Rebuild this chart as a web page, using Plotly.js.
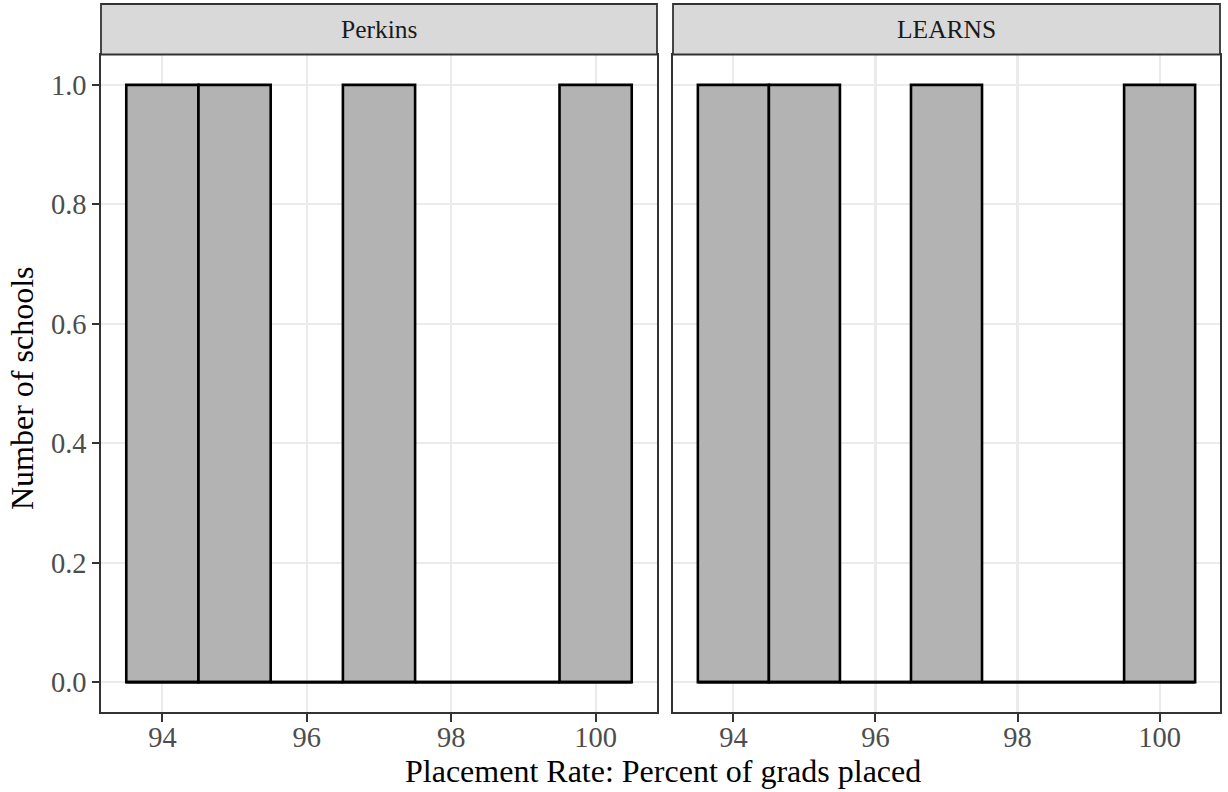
<!DOCTYPE html>
<html>
<head>
<meta charset="utf-8">
<script src="https://cdn.plot.ly/plotly-3.0.1.min.js"></script>
<style>html,body{margin:0;padding:0;background:#fff;}#chart{width:1228px;height:792px;}</style>
</head>
<body>
<div id="chart"></div>
<script>
// ---- data ----
var panels = ["Perkins", "LEARNS"];
var binCenters = [94, 95, 96, 97, 98, 99, 100];
var perkinsCounts = [1, 1, 0, 1, 0, 0, 1];
var learnsCounts = [1, 1, 0, 1, 0, 0, 1];
var binWidth = 1;
var xTickVals = [94, 96, 98, 100];
var yTickVals = [0, 0.2, 0.4, 0.6, 0.8, 1.0];
var xTitle = "Placement Rate: Percent of grads placed";
var yTitle = "Number of schools";

// ---- geometry helpers (pixel -> paper) ----
var W = 1228, H = 792;
function px(x) { return x / W; }
function py(y) { return 1 - y / H; }

var FONT = '"Liberation Serif", "Times New Roman", Times, serif';
var countsList = [perkinsCounts, learnsCounts];

var traces = [];
countsList.forEach(function (counts, i) {
  var xa = i === 0 ? 'x' : 'x2';
  var ya = i === 0 ? 'y' : 'y2';
  traces.push({
    type: 'bar', x: binCenters, y: counts, width: binWidth,
    xaxis: xa, yaxis: ya,
    marker: { color: '#B3B3B3', line: { color: '#000000', width: 2.6 } },
    hoverinfo: 'x+y', showlegend: false
  });
  // outline of the histogram's baseline (zero-count bins)
  var lo = binCenters[0] - binWidth / 2;
  var hi = binCenters[binCenters.length - 1] + binWidth / 2;
  traces.push({
    type: 'scatter', mode: 'lines', x: [lo, hi], y: [0, 0],
    xaxis: xa, yaxis: ya,
    line: { color: '#000000', width: 2.6 },
    hoverinfo: 'skip', showlegend: false
  });
});

var xRange = [binCenters[0] - binWidth / 2 - 0.35, binCenters[binCenters.length - 1] + binWidth / 2 + 0.35];
var yMax = Math.max.apply(null, perkinsCounts.concat(learnsCounts));
var yRange = [-0.05 * yMax, 1.05 * yMax];

function xAxis(domain, anchor) {
  return {
    domain: domain, anchor: anchor, range: xRange,
    tickmode: 'array', tickvals: xTickVals,
    ticks: 'outside', ticklen: 8, tickwidth: 2, tickcolor: '#333333',
    ticklabelstandoff: -9,
    tickfont: { family: FONT, size: 28.5, color: '#4D4D4D' },
    showgrid: true, gridcolor: '#EBEBEB', gridwidth: 2.2,
    zeroline: false, showline: true, mirror: true,
    linecolor: '#333333', linewidth: 1.8, automargin: false,
    fixedrange: true
  };
}
function yAxis(anchor, labels) {
  return {
    domain: [py(712), py(55)], anchor: anchor, range: yRange,
    tickmode: 'array', tickvals: yTickVals, tickformat: '.1f',
    showticklabels: labels,
    ticks: labels ? 'outside' : '', ticklen: 7, tickwidth: 2, tickcolor: '#333333',
    tickfont: { family: FONT, size: 28.5, color: '#4D4D4D' },
    showgrid: true, gridcolor: '#EBEBEB', gridwidth: 2.2,
    zeroline: false, showline: true, mirror: true,
    linecolor: '#333333', linewidth: 1.8, automargin: false,
    fixedrange: true
  };
}

var shapes = [], annotations = [];
['x', 'x2'].forEach(function (xa, i) {
  shapes.push({
    type: 'rect', xref: xa + ' domain', yref: 'paper',
    x0: 0, x1: 1, y0: py(54.5), y1: py(4),
    fillcolor: '#D9D9D9', line: { color: '#333333', width: 1.8 }
  });
  annotations.push({
    xref: xa + ' domain', yref: 'paper', x: 0.5, y: py(29.5),
    xanchor: 'center', yanchor: 'middle', showarrow: false,
    text: panels[i], font: { family: FONT, size: 25.5, color: '#1A1A1A' }
  });
});
annotations.push({
  xref: 'paper', yref: 'paper', x: px(663), y: py(771),
  xanchor: 'center', yanchor: 'middle', showarrow: false,
  text: xTitle, font: { family: FONT, size: 32, color: '#000000' }
});
annotations.push({
  xref: 'paper', yref: 'paper', x: px(22), y: py(388),
  xanchor: 'center', yanchor: 'middle', showarrow: false, textangle: -90,
  text: yTitle, font: { family: FONT, size: 32, color: '#000000' }
});

var layout = {
  width: W, height: H,
  margin: { l: 0, r: 0, t: 0, b: 0 },
  paper_bgcolor: '#FFFFFF', plot_bgcolor: '#FFFFFF',
  showlegend: false, barmode: 'overlay', bargap: 0,
  font: { family: FONT },
  xaxis: xAxis([px(101), px(657)], 'y'),
  xaxis2: xAxis([px(673), px(1220)], 'y2'),
  yaxis: yAxis('x', true),
  yaxis2: yAxis('x2', false),
  shapes: shapes,
  annotations: annotations
};

Plotly.newPlot('chart', traces, layout, { staticPlot: true, displayModeBar: false });
</script>
</body>
</html>
